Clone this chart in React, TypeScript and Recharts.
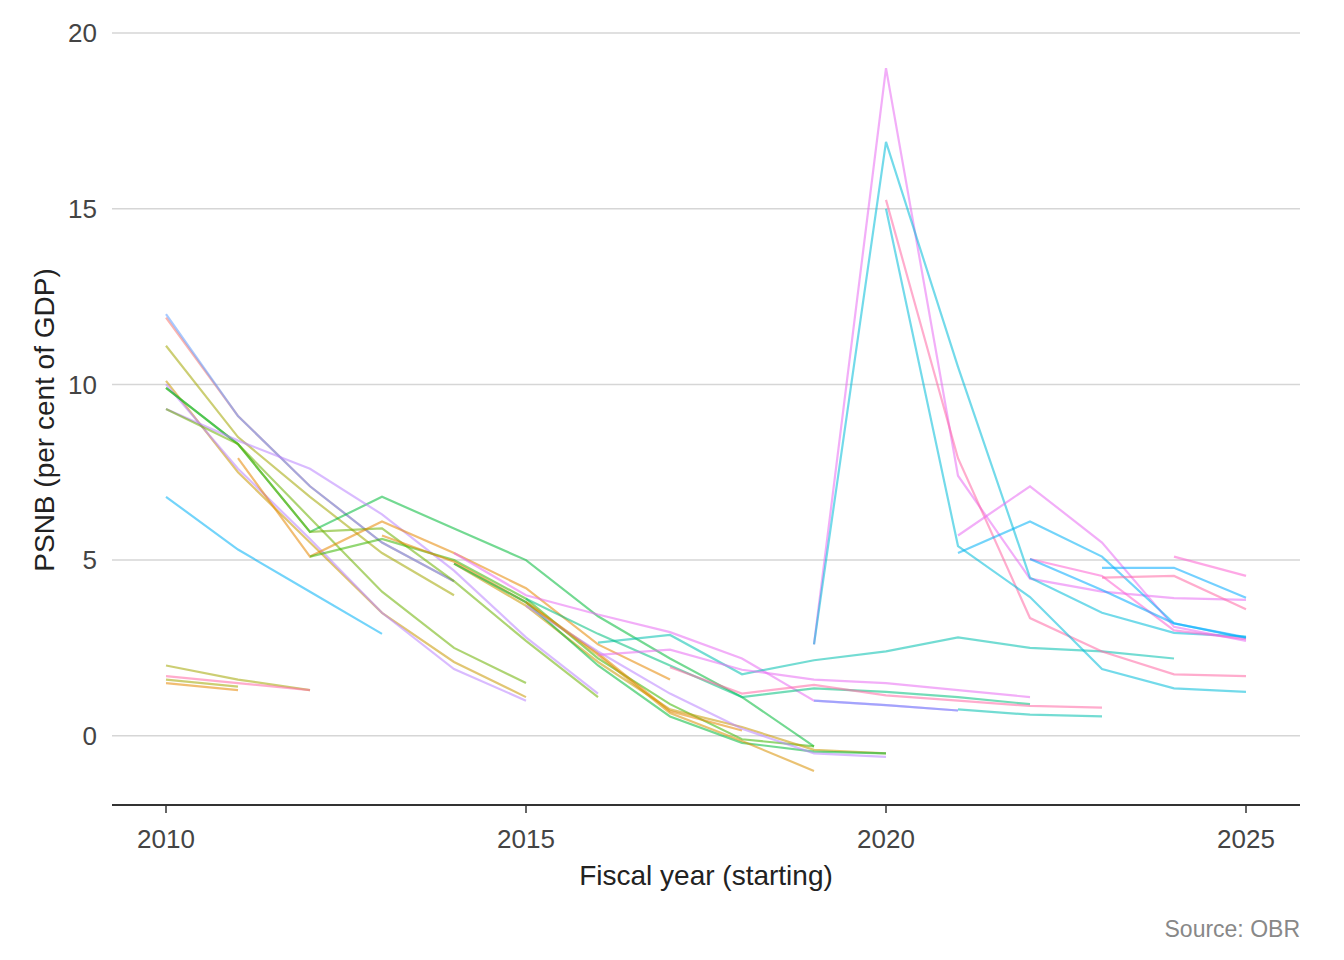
import React from "react";
import { CartesianGrid, Line, LineChart, XAxis, YAxis } from "recharts";

// fiscal years on the x axis
const years = [2010, 2011, 2012, 2013, 2014, 2015, 2016, 2017, 2018, 2019, 2020, 2021, 2022, 2023, 2024, 2025];
const _ = null;

// one array per forecast, one value per fiscal year (null = not in that forecast)
const line01 = [11.9, 9.1, 7.1, 5.5, 4.4, _, _, _, _, _, _, _, _, _, _, _];
const line02 = [12.0, 9.1, 7.1, 5.5, 4.4, _, _, _, _, _, _, _, _, _, _, _];
const line03 = [11.1, 8.5, 6.8, 5.2, 4.0, _, _, _, _, _, _, _, _, _, _, _];
const line04 = [10.1, 7.5, 5.5, 3.5, 2.1, 1.1, _, _, _, _, _, _, _, _, _, _];
const line05 = [10.0, 7.6, 5.6, 3.5, 1.9, 1.0, _, _, _, _, _, _, _, _, _, _];
const line06 = [9.9, 8.3, 6.2, 4.1, 2.5, 1.5, _, _, _, _, _, _, _, _, _, _];
const line07 = [9.9, 8.3, 5.8, 6.8, 5.9, 5.0, 3.4, 2.2, 1.1, -0.3, _, _, _, _, _, _];
const line08 = [9.3, 8.4, 7.6, 6.3, 4.7, 2.8, 1.2, _, _, _, _, _, _, _, _, _];
const line09 = [9.3, 8.3, 5.8, 5.9, 4.4, 2.7, 1.1, _, _, _, _, _, _, _, _, _];
const line10 = [6.8, 5.3, 4.1, 2.9, _, _, _, _, _, _, _, _, _, _, _, _];
const line11 = [2.0, 1.6, 1.3, _, _, _, _, _, _, _, _, _, _, _, _, _];
const line12 = [1.7, 1.5, 1.3, _, _, _, _, _, _, _, _, _, _, _, _, _];
const line13 = [1.6, 1.4, _, _, _, _, _, _, _, _, _, _, _, _, _, _];
const line14 = [1.5, 1.3, _, _, _, _, _, _, _, _, _, _, _, _, _, _];
const line15 = [_, 7.9, 5.1, 6.1, 5.2, 4.2, 2.6, 1.6, _, _, _, _, _, _, _, _];
const line16 = [_, _, 5.1, 5.6, 5.0, 3.9, 2.2, 0.9, -0.1, -0.3, _, _, _, _, _, _];
const line17 = [_, _, _, 5.7, 4.95, 3.8, 2.35, 0.7, 0.15, _, _, _, _, _, _, _];
const line18 = [_, _, _, _, 4.9, 3.7, 2.1, 0.75, 0.25, -0.4, -0.5, _, _, _, _, _];
const line19 = [_, _, _, _, 4.9, 3.8, 2.0, 0.55, -0.2, -0.45, -0.5, _, _, _, _, _];
const line20 = [_, _, _, _, _, 3.7, 2.4, 1.2, 0.2, -0.5, -0.6, _, _, _, _, _];
const line21 = [_, _, _, _, _, 3.8, 2.3, 0.65, -0.15, -1.0, _, _, _, _, _, _];
const line22 = [_, _, _, _, 5.2, 4.0, 3.45, 2.95, 2.2, 1.0, 0.87, 0.72, _, _, _, _];
const line23 = [_, _, _, _, _, _, 2.65, 2.87, 1.75, 2.15, 2.4, 2.8, 2.5, 2.4, 2.2, _];
const line24 = [_, _, _, _, _, 3.9, 2.9, 2.0, 1.1, 1.35, 1.25, 1.1, 0.9, _, _, _];
const line25 = [_, _, _, _, _, _, _, 1.95, 1.2, 1.45, 1.15, 1.0, 0.85, 0.8, _, _];
const line26 = [_, _, _, _, _, _, 2.3, 2.45, 1.88, 1.6, 1.5, 1.3, 1.1, _, _, _];
const line27 = [_, _, _, _, _, _, _, _, _, 1.0, 0.87, 0.72, _, _, _, _];
const line28 = [_, _, _, _, _, _, _, _, _, 2.6, 19.0, 7.4, 4.47, 4.1, 3.92, 3.87];
const line29 = [_, _, _, _, _, _, _, _, _, 2.6, 16.9, 10.5, 4.5, 3.5, 2.93, 2.82];
const line30 = [_, _, _, _, _, _, _, _, _, _, 15.25, 7.9, 3.35, 2.4, 1.75, 1.7];
const line31 = [_, _, _, _, _, _, _, _, _, _, 15.0, 5.4, 3.95, 1.9, 1.35, 1.25];
const line32 = [_, _, _, _, _, _, _, _, _, _, _, 5.7, 7.1, 5.5, 3.1, 2.7];
const line33 = [_, _, _, _, _, _, _, _, _, _, _, 5.2, 6.1, 5.1, 3.2, 2.78];
const line34 = [_, _, _, _, _, _, _, _, _, _, _, _, 5.03, 4.55, 3.0, 2.75];
const line35 = [_, _, _, _, _, _, _, _, _, _, _, _, 5.03, 4.15, 3.2, 2.8];
const line36 = [_, _, _, _, _, _, _, _, _, _, _, _, _, 4.78, 4.78, 3.93];
const line37 = [_, _, _, _, _, _, _, _, _, _, _, _, _, 4.5, 4.55, 3.6];
const line38 = [_, _, _, _, _, _, _, _, _, _, _, _, _, _, 5.1, 4.55];
const line39 = [_, _, _, _, _, _, _, _, _, _, _, 0.75, 0.6, 0.55, _, _];

const yTicks = [0, 5, 10, 15, 20];
const xTicks = [2010, 2015, 2020, 2025];

const series = [
  { key: "line01", values: line01, color: "#F8766D" },
  { key: "line02", values: line02, color: "#619CFF" },
  { key: "line03", values: line03, color: "#A3A500" },
  { key: "line04", values: line04, color: "#C99800" },
  { key: "line05", values: line05, color: "#B983FF" },
  { key: "line06", values: line06, color: "#6BB100" },
  { key: "line07", values: line07, color: "#00BA38" },
  { key: "line08", values: line08, color: "#B983FF" },
  { key: "line09", values: line09, color: "#6BB100" },
  { key: "line10", values: line10, color: "#00B0F6" },
  { key: "line11", values: line11, color: "#A3A500" },
  { key: "line12", values: line12, color: "#FF67A4" },
  { key: "line13", values: line13, color: "#A3A500" },
  { key: "line14", values: line14, color: "#E58700" },
  { key: "line15", values: line15, color: "#E58700" },
  { key: "line16", values: line16, color: "#39B600" },
  { key: "line17", values: line17, color: "#E58700" },
  { key: "line18", values: line18, color: "#C99800" },
  { key: "line19", values: line19, color: "#00BA38" },
  { key: "line20", values: line20, color: "#B983FF" },
  { key: "line21", values: line21, color: "#D89000" },
  { key: "line22", values: line22, color: "#E76BF3" },
  { key: "line23", values: line23, color: "#00C0AF" },
  { key: "line24", values: line24, color: "#00BF7D" },
  { key: "line25", values: line25, color: "#FF67A4" },
  { key: "line26", values: line26, color: "#E76BF3" },
  { key: "line27", values: line27, color: "#619CFF" },
  { key: "line28", values: line28, color: "#E76BF3" },
  { key: "line29", values: line29, color: "#00BCD8" },
  { key: "line30", values: line30, color: "#FF67A4" },
  { key: "line31", values: line31, color: "#00BCD8" },
  { key: "line32", values: line32, color: "#E76BF3" },
  { key: "line33", values: line33, color: "#00B0F6" },
  { key: "line34", values: line34, color: "#FD61D1" },
  { key: "line35", values: line35, color: "#00A9FF" },
  { key: "line36", values: line36, color: "#00A9FF" },
  { key: "line37", values: line37, color: "#FF67A4" },
  { key: "line38", values: line38, color: "#FD61D1" },
  { key: "line39", values: line39, color: "#00C0AF" },
];

const rows = years.map((year, i) => {
  const row: Record<string, number | null> = { year };
  series.forEach((s) => {
    row[s.key] = s.values[i];
  });
  return row;
});

const FONT = '"Liberation Sans", Arial, Helvetica, sans-serif';

export default function App() {
  return (
    <div style={{ position: "absolute", left: 0, top: 0, width: 1344, height: 960, background: "#fff", fontFamily: FONT }}>
      <LineChart width={1344} height={960} data={rows} margin={{ top: 33, right: 44, bottom: 105, left: 52 }}>
        <CartesianGrid vertical={false} stroke="#d6d6d6" strokeWidth={1.5} />
        <XAxis
          dataKey="year"
          type="number"
          domain={[2009.25, 2025.75]}
          ticks={xTicks}
          allowDataOverflow
          height={50}
          tickSize={8}
          tickMargin={17}
          axisLine={{ stroke: "#333", strokeWidth: 2 }}
          tickLine={{ stroke: "#333", strokeWidth: 1.5 }}
          tick={{ fill: "#444", fontSize: 26, fontFamily: FONT }}
        />
        <YAxis
          type="number"
          domain={[-1.97, 20.0]}
          ticks={yTicks}
          allowDataOverflow
          width={60}
          axisLine={false}
          tickLine={false}
          tickSize={0}
          tickMargin={15}
          tick={{ fill: "#444", fontSize: 26, fontFamily: FONT }}
        />
        {series.map((s) => (
          <Line
            key={s.key}
            dataKey={s.key}
            type="linear"
            stroke={s.color}
            strokeOpacity={0.55}
            strokeWidth={2.2}
            dot={false}
            activeDot={false}
            isAnimationActive={false}
          />
        ))}
      </LineChart>
      <svg width={1344} height={960} style={{ position: "absolute", left: 0, top: 0, pointerEvents: "none" }}>
        <text x={706} y={885} textAnchor="middle" fontSize={28} fill="#222" fontFamily={FONT}>
          Fiscal year (starting)
        </text>
        <text
          x={0}
          y={0}
          transform="translate(54 420) rotate(-90)"
          textAnchor="middle"
          fontSize={28}
          fill="#222"
          fontFamily={FONT}
        >
          PSNB (per cent of GDP)
        </text>
        <text x={1300} y={937} textAnchor="end" fontSize={23} fill="#888" fontFamily={FONT}>
          Source: OBR
        </text>
      </svg>
    </div>
  );
}
